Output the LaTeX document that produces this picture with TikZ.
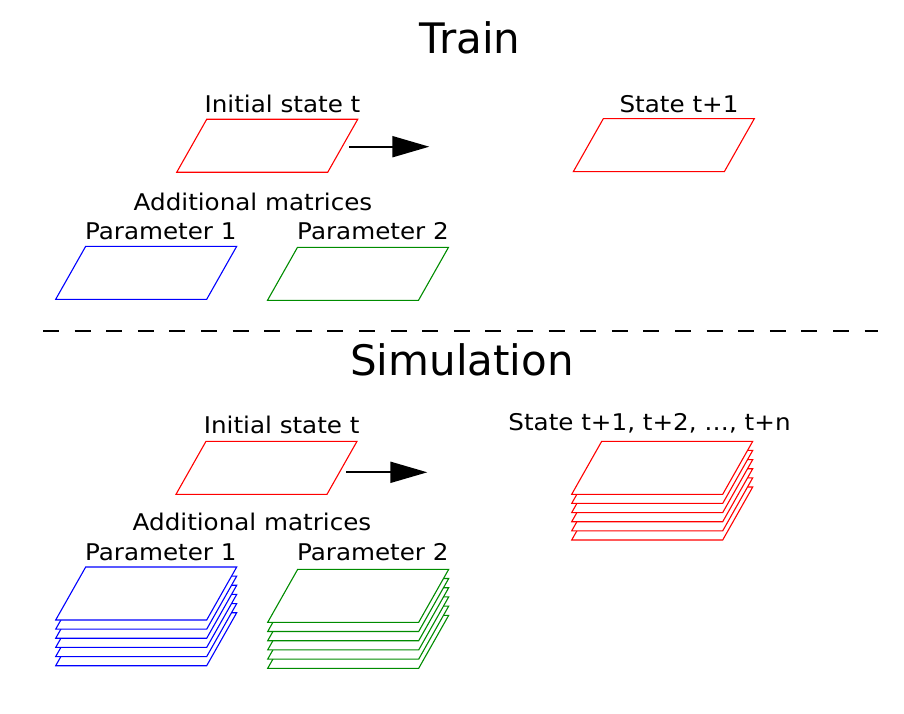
\documentclass[tikz,border=0pt]{standalone}
\usepackage{fontspec}
\setmainfont{DejaVu Sans}
\newfontfamily\lblfont{DejaVu Sans}[FakeStretch=1.07]
\usetikzlibrary{arrows.meta}
\definecolor{pgreen}{RGB}{0,140,0}
\tikzset{
  ttl/.style={anchor=base,inner sep=0pt,font=\fontsize{42}{50}\selectfont},
  lbl/.style={anchor=base,inner sep=0pt,font=\lblfont\fontsize{23}{27}\selectfont},
  flow/.style={-{Triangle[length=37pt,width=21pt]},line width=2pt},
  sep/.style={line width=2pt,dash pattern=on 16pt off 15.6pt}
}
\newcommand{\matsheet}[3]{\draw[#3,line width=1.1pt,fill=white] (#1,#2) -- ++(151,0) -- ++(30,-53) -- ++(-151,0) -- cycle;}

\begin{document}
\begin{tikzpicture}[x=1pt,y=-1pt]
\useasboundingbox (0,0) rectangle (904,714);

\node[ttl] (train) at (470,53.3) {Train};
\node[lbl] (init1) at (282.5,112.3) {Initial state t};
\node[lbl] (next1) at (679,112.3) {State t+1};
\node[lbl] (add1) at (253,210) {Additional matrices};
\node[lbl] (par11) at (160.8,239.5) {Parameter 1};
\node[lbl] (par21) at (373,239.5) {Parameter 2};
\matsheet{176.7}{172.3}{red}
\matsheet{573.3}{171.7}{red}
\matsheet{55.7}{299.3}{blue}
\matsheet{267.5}{300.3}{pgreen}
\coordinate (a1) at (349.3,146.7);
\coordinate (b1) at (429.3,146.7);
\draw[flow] (a1) -- (b1);

\coordinate (l) at (43,330.5);
\coordinate (r) at (878,330.5);
\draw[sep] (l) -- (r);

\node[ttl] (sim) at (462,375) {Simulation};
\node[lbl] (init2) at (281.7,433.3) {Initial state t};
\node[lbl] (next2) at (649.5,430) {State t+1, t+2, …, t+n};
\node[lbl] (add2) at (252,530) {Additional matrices};
\node[lbl] (par12) at (160.8,560) {Parameter 1};
\node[lbl] (par22) at (372.8,560) {Parameter 2};
\matsheet{176}{494.3}{red}
\foreach \k in {5,...,0}
{
    \matsheet{571.7}{494.3+9.14*\k}{red}
    \matsheet{55.7}{620+9.14*\k}{blue}
    \matsheet{267.7}{622.3+9.2*\k}{pgreen}
}
\coordinate (a2) at (346,472.3);
\coordinate (b2) at (427.3,472.3);
\draw[flow] (a2) -- (b2);

\end{tikzpicture}
\end{document}
